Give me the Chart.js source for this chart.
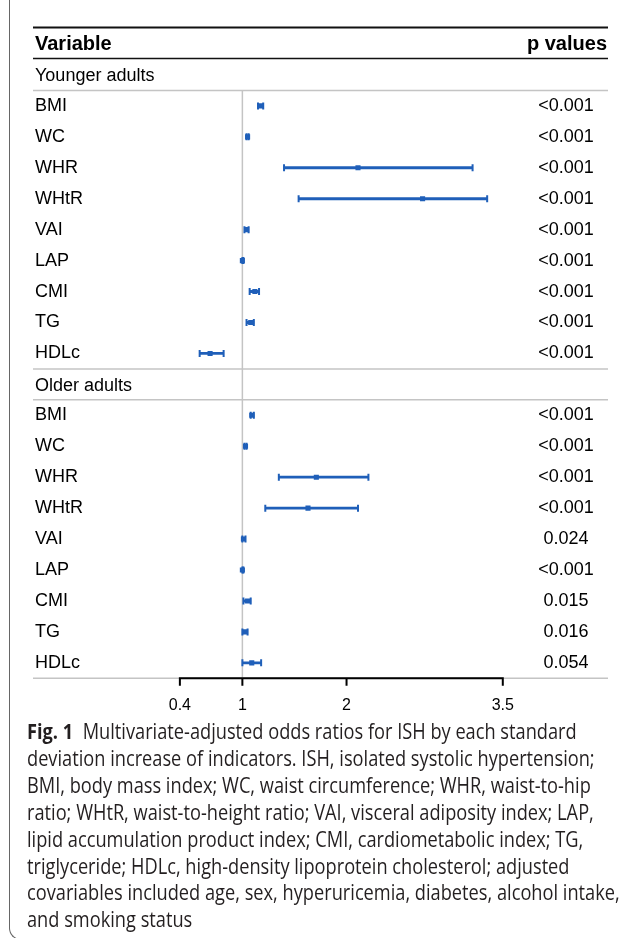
<!DOCTYPE html>
<html>
<head>
<meta charset="utf-8">
<script src="https://cdn.jsdelivr.net/npm/chart.js@4.4.1/dist/chart.umd.min.js"></script>
<style>
  html, body { margin: 0; padding: 0; background: #fff; }
  body { width: 629px; height: 938px; position: relative; overflow: hidden; }
  #frame { position: absolute; left: 9px; top: -20px; width: 650px; height: 960px; box-sizing: border-box;
           border-left: 1.5px solid #666; border-bottom: 1.5px solid #666; border-bottom-left-radius: 12px; }
  #chart { position: absolute; left: 0; top: 0; }
  #caption { position: absolute; left: 27px; top: 717px; font-family: "Open Sans", sans-serif; font-size: 22px;
             line-height: 26.9px; color: #231f20; white-space: nowrap; }
  #caption div { transform-origin: 0 50%; width: max-content; }
</style>
</head>
<body>
<div id="frame"></div>
<canvas id="chart" width="629" height="720"></canvas>
<div id="caption">
  <div><b>Fig. 1</b>&nbsp; Multivariate-adjusted odds ratios for ISH by each standard</div>
  <div>deviation increase of indicators. ISH, isolated systolic hypertension;</div>
  <div>BMI, body mass index; WC, waist circumference; WHR, waist-to-hip</div>
  <div>ratio; WHtR, waist-to-height ratio; VAI, visceral adiposity index; LAP,</div>
  <div>lipid accumulation product index; CMI, cardiometabolic index; TG,</div>
  <div>triglyceride; HDLc, high-density lipoprotein cholesterol; adjusted</div>
  <div>covariables included age, sex, hyperuricemia, diabetes, alcohol intake,</div>
  <div>and smoking status</div>
</div>
<script>
const groups = ['Younger adults', 'Older adults'];
const variables = ['BMI', 'WC', 'WHR', 'WHtR', 'VAI', 'LAP', 'CMI', 'TG', 'HDLc'];

const youngOR = [1.18, 1.05, 2.11, 2.73, 1.04, 1.00, 1.12, 1.08, 0.69];
const youngLo = [1.15, 1.04, 1.40, 1.54, 1.02, 1.00, 1.07, 1.04, 0.59];
const youngHi = [1.20, 1.06, 3.21, 3.35, 1.06, 1.01, 1.16, 1.11, 0.82];
const youngP = ['<0.001', '<0.001', '<0.001', '<0.001', '<0.001', '<0.001', '<0.001', '<0.001', '<0.001'];

const oldOR = [1.09, 1.03, 1.71, 1.63, 1.01, 1.00, 1.05, 1.03, 1.09];
const oldLo = [1.08, 1.02, 1.35, 1.22, 1.00, 1.00, 1.01, 1.00, 1.00];
const oldHi = [1.11, 1.04, 2.21, 2.11, 1.03, 1.01, 1.08, 1.05, 1.18];
const oldP = ['<0.001', '<0.001', '<0.001', '<0.001', '0.024', '<0.001', '0.015', '0.016', '0.054'];

const xTicks = [0.4, 1, 2, 3.5];

const blue = '#1f5fb9';
const grey = '#c4c4c4';
const tableFont = '"Liberation Sans", Arial, sans-serif';

// rows: group header, its variables, next group header, ...
const rowLabels = [groups[0], ...variables, groups[1], ...variables];
const rowP = ['', ...youngP, '', ...oldP];
const nRows = rowLabels.length;

const points = [], loCaps = [], hiCaps = [], ciBars = [];
[[youngOR, youngLo, youngHi], [oldOR, oldLo, oldHi]].forEach(([or, lo, hi], g) => {
    variables.forEach((v, i) => {
        const row = g * (variables.length + 1) + 1 + i;
        points.push({x: or[i], y: row});
        loCaps.push({x: lo[i], y: row});
        hiCaps.push({x: hi[i], y: row});
        ciBars.push({x: [lo[i], hi[i]], y: row});
    });
});

const forestTable = {
    id: 'forestTable',
    beforeDatasetsDraw(chart) {
        const {ctx, chartArea, scales: {x, y}} = chart;
        ctx.save();
        ctx.strokeStyle = grey;
        ctx.lineWidth = 1.5;
        // separators around the group header rows
        [0.5, variables.length + 0.5, variables.length + 1.5, nRows - 0.5].forEach(r => {
            const py = y.getPixelForValue(r);
            ctx.beginPath();
            ctx.moveTo(chartArea.left, py);
            ctx.lineTo(chartArea.right, py);
            ctx.stroke();
        });
        // reference line at OR = 1
        const px = x.getPixelForValue(1);
        ctx.beginPath();
        ctx.moveTo(px, y.getPixelForValue(0.5));
        ctx.lineTo(px, chartArea.bottom);
        ctx.stroke();
        ctx.restore();
    },
    afterDraw(chart) {
        const {ctx, chartArea, scales: {x, y}} = chart;
        ctx.save();
        // header rules
        ctx.strokeStyle = '#111';
        ctx.lineWidth = 2.2;
        ctx.beginPath();
        ctx.moveTo(chartArea.left, 27.5);
        ctx.lineTo(chartArea.right, 27.5);
        ctx.stroke();
        ctx.lineWidth = 1.6;
        ctx.beginPath();
        ctx.moveTo(chartArea.left, chartArea.top - 1);
        ctx.lineTo(chartArea.right, chartArea.top - 1);
        ctx.stroke();

        // header text
        ctx.fillStyle = '#000';
        ctx.textBaseline = 'middle';
        ctx.font = 'bold 20px ' + tableFont;
        const hy = y.getPixelForValue(-1);
        ctx.textAlign = 'left';
        ctx.fillText('Variable', 35, hy);
        ctx.textAlign = 'right';
        ctx.fillText('p values', 607, hy);

        // row labels and p values
        ctx.font = '18px ' + tableFont;
        rowLabels.forEach((lab, r) => {
            const py = y.getPixelForValue(r);
            const isGroup = rowP[r] === '';
            ctx.textAlign = 'left';
            ctx.fillText(lab, 35, py + (isGroup ? 1.5 : 0));
            if (rowP[r]) {
                ctx.textAlign = 'center';
                ctx.fillText(rowP[r], 566, py);
            }
        });

        // x axis line only between the outer ticks, with its tick marks
        const axisY = y.getPixelForValue(nRows - 0.5);
        ctx.strokeStyle = '#000';
        ctx.lineWidth = 2;
        ctx.beginPath();
        ctx.moveTo(x.getPixelForValue(xTicks[0]) - 1, axisY);
        ctx.lineTo(x.getPixelForValue(xTicks[xTicks.length - 1]) + 1, axisY);
        xTicks.forEach(v => {
            const px = x.getPixelForValue(v);
            ctx.moveTo(px, axisY);
            ctx.lineTo(px, axisY + 7.5);
        });
        ctx.stroke();
        ctx.restore();
    }
};

new Chart(document.getElementById('chart'), {
    type: 'scatter',
    data: {
        datasets: [
            {label: 'OR', data: points, pointStyle: 'rect', radius: 3.6, backgroundColor: blue, borderColor: blue, borderWidth: 0, order: 1},
            {label: 'lower', data: loCaps, pointStyle: 'line', rotation: 90, radius: 3.5, borderColor: blue, borderWidth: 2, order: 2},
            {label: 'upper', data: hiCaps, pointStyle: 'line', rotation: 90, radius: 3.5, borderColor: blue, borderWidth: 2, order: 2},
            {type: 'bar', label: '95% CI', data: ciBars, indexAxis: 'y', barThickness: 2.2, backgroundColor: blue, order: 3}
        ]
    },
    options: {
        responsive: false,
        animation: false,
        devicePixelRatio: 1,
        layout: {padding: {left: 33, right: 21, top: 59.5, bottom: 5.7}},
        plugins: {legend: {display: false}, tooltip: {enabled: false}},
        scales: {
            x: {
                type: 'linear', min: -1.01, max: 4.51, offset: false, beginAtZero: false,
                afterBuildTicks: s => { s.ticks = xTicks.map(v => ({value: v})); },
                afterFit: s => { s.height = 36; },
                grid: {display: false},
                border: {display: false},
                ticks: {padding: 10, color: '#000', font: {family: tableFont, size: 16}, callback: v => String(v)}
            },
            y: {type: 'linear', display: false, reverse: true, min: -0.5, max: nRows - 0.5, offset: false, grid: {offset: false}}
        }
    },
    plugins: [forestTable]
});

// squeeze caption lines so the longest one matches the printed width
const lines = document.querySelectorAll('#caption div');
const k = 593 / lines[6].getBoundingClientRect().width;
lines.forEach(d => { d.style.transform = 'scaleX(' + k.toFixed(3) + ')'; });
</script>
</body>
</html>
